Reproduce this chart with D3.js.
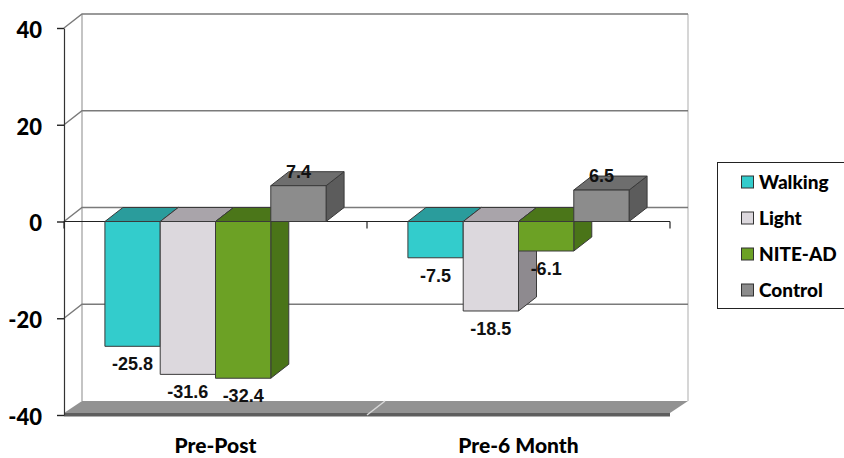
<!DOCTYPE html>
<html>
<head>
<meta charset="utf-8">
<script src="https://cdn.jsdelivr.net/npm/d3@7"></script>
<style>
  html, body { margin: 0; padding: 0; background: #fff; }
  svg { display: block; }
</style>
</head>
<body>
<svg id="chart" width="844" height="458"></svg>
<script>
// Change scores per group and time window
const categories = ["Pre-Post", "Pre-6 Month"];
const seriesNames = ["Walking", "Light", "NITE-AD", "Control"];
const walking = [-25.8, -7.5];
const light = [-31.6, -18.5];
const niteAd = [-32.4, -6.1];
const control = [7.4, 6.5];
const yTicks = [40, 20, 0, -20, -40];

const seriesValues = [walking, light, niteAd, control];

// Face colours for each series: front, top, side
const palette = {
  "Walking": { front: "#33CCCC", top: "#2A9C9C", side: "#238C8C" },
  "Light":   { front: "#DCD8DD", top: "#A9A4AA", side: "#8E8A8F" },
  "NITE-AD": { front: "#6CA125", top: "#4B7619", side: "#4A7418" },
  "Control": { front: "#8C8C8C", top: "#6E6E6E", side: "#5C5C5C" }
};

// Number formats using a plain hyphen for negatives
const locale = d3.formatLocale({ decimal: ".", thousands: ",", grouping: [3], currency: ["", ""], minus: "-" });
const fmtValue = locale.format(".1f");
const fmtTick = locale.format("d");

const svg = d3.select("#chart");

// Plot box (front plane) and depth offset of the 3D walls
const plotLeft = 64, plotRight = 670, plotTop = 28, plotBottom = 415;
const DX = 18, DY = -14;

const y = d3.scaleLinear().domain([-40, 40]).range([plotBottom, plotTop]);
const x0 = d3.scaleBand().domain(categories).range([plotLeft, plotRight]).padding(0);
const x1 = d3.scaleBand().domain(seriesNames).range([0, x0.bandwidth()])
  .paddingInner(0).paddingOuter(0.74);

const bw = x1.bandwidth();
const pts = arr => arr.map(p => p.join(",")).join(" ");

// ---- Walls ----
const walls = svg.append("g");
// left side wall
walls.append("polygon")
  .attr("points", pts([[plotLeft, y(40)], [plotLeft + DX, y(40) + DY], [plotLeft + DX, y(-40) + DY], [plotLeft, y(-40)]]))
  .attr("fill", "#fff");
// back wall
walls.append("rect")
  .attr("x", plotLeft + DX).attr("y", y(40) + DY)
  .attr("width", plotRight - plotLeft).attr("height", y(-40) - y(40))
  .attr("fill", "#fff");
// wall edges
walls.append("line")
  .attr("x1", plotLeft + DX).attr("x2", plotLeft + DX)
  .attr("y1", y(40) + DY).attr("y2", y(-40) + DY)
  .attr("stroke", "#c4c4c4").attr("stroke-width", 2);
walls.append("line")
  .attr("x1", plotRight + DX).attr("x2", plotRight + DX)
  .attr("y1", y(40) + DY).attr("y2", y(-40) + DY)
  .attr("stroke", "#c8c8c8").attr("stroke-width", 1.5);

// ---- Gridlines on the back and side walls ----
const grid = svg.append("g");
grid.selectAll("polyline.grid")
  .data(yTicks.filter(t => t > -40))
  .join("polyline")
  .attr("class", "grid")
  .attr("points", t => pts([[plotLeft, y(t)], [plotLeft + DX, y(t) + DY], [plotRight + DX, y(t) + DY]]))
  .attr("fill", "none")
  .attr("stroke", "#7a7a7a")
  .attr("stroke-width", 1.4);

// ---- Floor slab ----
const floorFront = y(-40) - 2;
const floor = svg.append("g");
floor.append("polygon")
  .attr("points", pts([[plotLeft, floorFront], [plotRight, floorFront], [plotRight + DX, y(-40) + DY], [plotLeft + DX, y(-40) + DY]]))
  .attr("fill", "#929292");
floor.append("rect")
  .attr("x", plotLeft).attr("y", floorFront)
  .attr("width", plotRight - plotLeft).attr("height", 3.5)
  .attr("fill", "#5e5e5e");
floor.selectAll("line.div")
  .data(categories.slice(1))
  .join("line")
  .attr("class", "div")
  .attr("x1", c => x0(c)).attr("y1", floorFront + 2)
  .attr("x2", c => x0(c) + DX).attr("y2", y(-40) + DY)
  .attr("stroke", "#d8d8d8").attr("stroke-width", 1.5);

// ---- Value axis ----
const yAxis = svg.append("g")
  .attr("transform", `translate(${plotLeft},0)`)
  .call(d3.axisLeft(y).tickValues(yTicks).tickFormat(fmtTick).tickSize(7).tickSizeOuter(0).tickPadding(15));
yAxis.select(".domain").attr("stroke", "#333").attr("stroke-width", 1.2);
yAxis.selectAll(".tick line").attr("stroke", "#222").attr("stroke-width", 1.4);
yAxis.selectAll(".tick text")
  .attr("dy", "0.42em")
  .attr("fill", "#000")
  .style("font-family", "Lato, 'Open Sans', sans-serif")
  .style("font-weight", 900)
  .style("font-size", "22px");

// ---- Category axis along zero ----
const xAxis = svg.append("g");
xAxis.append("line")
  .attr("x1", plotLeft).attr("x2", plotRight)
  .attr("y1", y(0)).attr("y2", y(0))
  .attr("stroke", "#222").attr("stroke-width", 1.2);
const boundaries = categories.map(c => x0(c)).concat([x0(categories[categories.length - 1]) + x0.bandwidth()]);
xAxis.selectAll("line.tick")
  .data(boundaries)
  .join("line")
  .attr("class", "tick")
  .attr("x1", d => d).attr("x2", d => d)
  .attr("y1", y(0)).attr("y2", y(0) + 7)
  .attr("stroke", "#222").attr("stroke-width", 1.2);

// ---- 3D bars ----
const bars = svg.append("g").attr("stroke", "#3a3a3a").attr("stroke-width", 1).attr("stroke-linejoin", "round");
const barData = [];
categories.forEach((c, ci) => {
  seriesNames.forEach((s, si) => {
    barData.push({ cat: c, series: s, value: seriesValues[si][ci] });
  });
});

barData.forEach(d => {
  const xa = x0(d.cat) + x1(d.series);
  const xb = xa + bw;
  const yHi = y(Math.max(d.value, 0));
  const yLo = y(Math.min(d.value, 0));
  const col = palette[d.series];
  const g = bars.append("g");
  // side face
  g.append("polygon")
    .attr("points", pts([[xb, yHi], [xb + DX, yHi + DY], [xb + DX, yLo + DY], [xb, yLo]]))
    .attr("fill", col.side);
  // top face
  g.append("polygon")
    .attr("points", pts([[xa, yHi], [xb, yHi], [xb + DX, yHi + DY], [xa + DX, yHi + DY]]))
    .attr("fill", col.top);
  // front face
  g.append("rect")
    .attr("x", xa).attr("y", yHi)
    .attr("width", bw).attr("height", yLo - yHi)
    .attr("fill", col.front);
});

// ---- Value labels ----
svg.append("g")
  .selectAll("text")
  .data(barData)
  .join("text")
  .attr("x", d => x0(d.cat) + x1(d.series) + bw / 2)
  .attr("y", d => d.value < 0 ? y(d.value) + 24 : y(d.value) - 8)
  .attr("text-anchor", "middle")
  .attr("fill", "#111")
  .style("font-family", "'Liberation Sans', Arial, sans-serif")
  .style("font-weight", 700)
  .style("font-size", "18px")
  .text(d => fmtValue(d.value));

// ---- Category labels ----
svg.append("g")
  .selectAll("text")
  .data(categories)
  .join("text")
  .attr("x", c => x0(c) + x0.bandwidth() / 2)
  .attr("y", 453)
  .attr("text-anchor", "middle")
  .attr("fill", "#000")
  .style("font-family", "Lato, 'Open Sans', sans-serif")
  .style("font-weight", 900)
  .style("font-size", "21px")
  .text(c => c);

// ---- Legend ----
const legend = svg.append("g");
legend.append("rect")
  .attr("x", 717.5).attr("y", 162.5)
  .attr("width", 140).attr("height", 146)
  .attr("fill", "#fff").attr("stroke", "#222").attr("stroke-width", 1);
const item = legend.selectAll("g.item")
  .data(seriesNames)
  .join("g")
  .attr("class", "item")
  .attr("transform", (s, i) => `translate(741,${182 + i * 36})`);
item.append("rect")
  .attr("x", 0.5).attr("y", -6)
  .attr("width", 12).attr("height", 12)
  .attr("fill", s => palette[s].front)
  .attr("stroke", "#333").attr("stroke-width", 1);
item.append("text")
  .attr("x", 18).attr("y", 0).attr("dy", "0.36em")
  .attr("fill", "#000")
  .style("font-family", "Lato, 'Open Sans', sans-serif")
  .style("font-weight", 900)
  .style("font-size", "19px")
  .text(s => s);
</script>
</body>
</html>
